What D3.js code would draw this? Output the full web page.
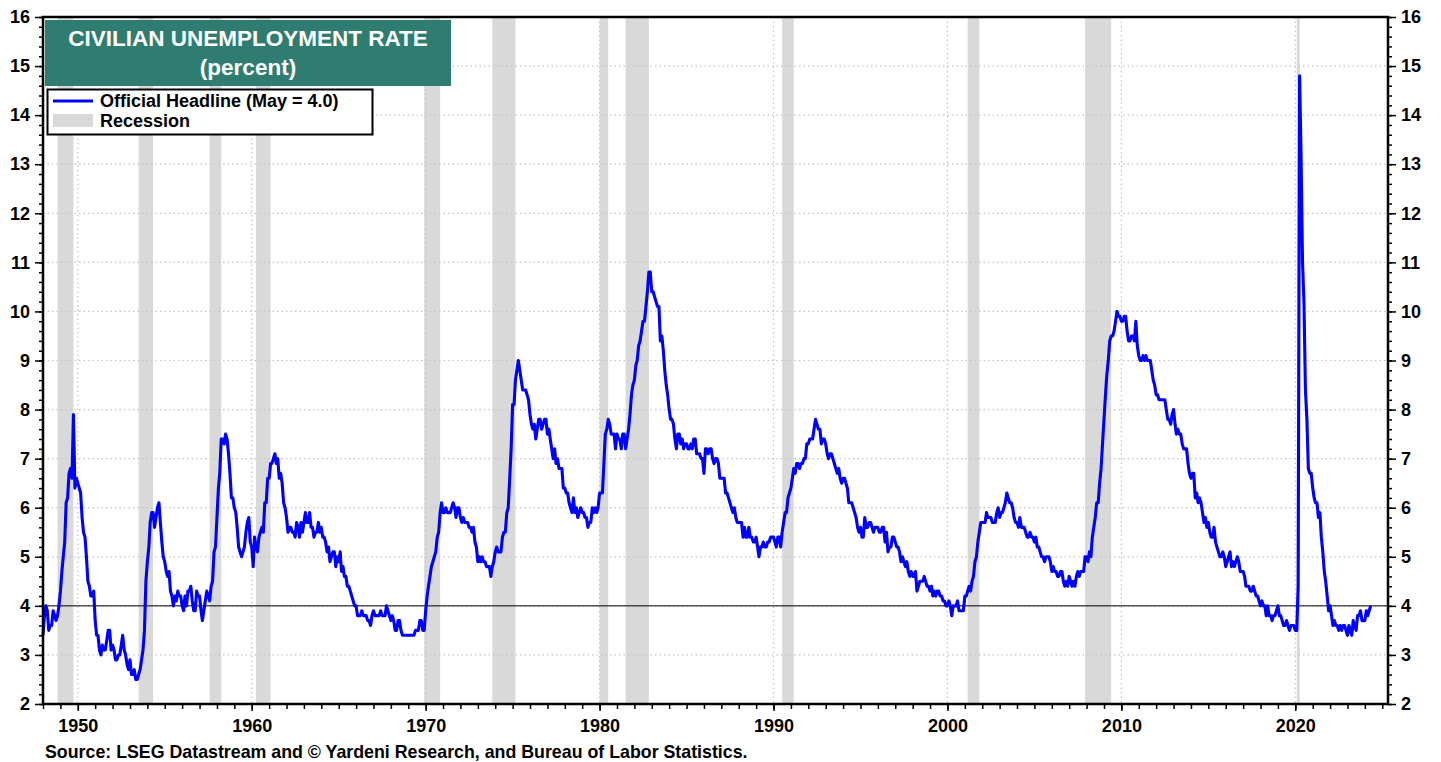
<html>
<head>
<style>
body { margin: 0; background: #fff; }
svg { font-family: "Liberation Sans", Arial, sans-serif; font-weight: bold; }
</style>
</head>
<body>
<svg id="chart"></svg>
<script src="https://cdn.jsdelivr.net/npm/d3@7"></script>
<script>
// monthly civilian unemployment rate, Jan 1948 .. May 2024
var startYear = 1948;
var rates = [
 3.4,3.8,4.0,3.9,3.5,3.6,3.6,3.9,3.8,3.7,3.8,4.0,
 4.3,4.7,5.0,5.3,6.1,6.2,6.7,6.8,6.6,7.9,6.4,6.6,
 6.5,6.4,6.3,5.8,5.5,5.4,5.0,4.5,4.4,4.2,4.2,4.3,
 3.7,3.4,3.4,3.1,3.0,3.2,3.1,3.1,3.3,3.5,3.5,3.1,
 3.2,3.1,2.9,2.9,3.0,3.0,3.2,3.4,3.1,3.0,2.8,2.7,
 2.9,2.6,2.6,2.7,2.5,2.5,2.6,2.7,2.9,3.1,3.5,4.5,
 4.9,5.2,5.7,5.9,5.9,5.6,5.8,6.0,6.1,5.7,5.3,5.0,
 4.9,4.7,4.6,4.7,4.3,4.2,4.0,4.2,4.1,4.3,4.2,4.2,
 4.0,3.9,4.2,4.0,4.3,4.3,4.4,4.1,3.9,3.9,4.3,4.2,
 4.2,3.9,3.7,3.9,4.1,4.3,4.2,4.1,4.4,4.5,5.1,5.2,
 5.8,6.4,6.7,7.4,7.4,7.3,7.5,7.4,7.1,6.7,6.2,6.2,
 6.0,5.9,5.6,5.2,5.1,5.0,5.1,5.2,5.5,5.7,5.8,5.3,
 5.2,4.8,5.4,5.2,5.1,5.4,5.5,5.6,5.5,6.1,6.1,6.6,
 6.6,6.9,6.9,7.0,7.1,6.9,7.0,6.6,6.7,6.5,6.1,6.0,
 5.8,5.5,5.6,5.6,5.5,5.5,5.4,5.7,5.6,5.4,5.7,5.5,
 5.7,5.9,5.7,5.7,5.9,5.6,5.6,5.4,5.5,5.5,5.7,5.5,
 5.6,5.4,5.4,5.3,5.1,5.2,4.9,5.0,5.1,5.1,4.8,5.0,
 4.9,5.1,4.7,4.8,4.6,4.6,4.4,4.4,4.3,4.2,4.1,4.0,
 4.0,3.8,3.8,3.8,3.9,3.8,3.8,3.8,3.7,3.7,3.6,3.8,
 3.9,3.8,3.8,3.8,3.8,3.9,3.8,3.8,3.8,4.0,3.9,3.8,
 3.7,3.8,3.7,3.5,3.5,3.7,3.7,3.5,3.4,3.4,3.4,3.4,
 3.4,3.4,3.4,3.4,3.4,3.5,3.5,3.5,3.7,3.7,3.5,3.5,
 3.9,4.2,4.4,4.6,4.8,4.9,5.0,5.1,5.4,5.5,5.9,6.1,
 5.9,5.9,6.0,5.9,5.9,5.9,6.0,6.1,6.0,5.8,6.0,6.0,
 5.8,5.7,5.8,5.7,5.7,5.7,5.6,5.6,5.5,5.6,5.3,5.2,
 4.9,5.0,4.9,5.0,4.9,4.9,4.8,4.8,4.8,4.6,4.8,4.9,
 5.1,5.2,5.1,5.1,5.1,5.4,5.5,5.5,5.9,6.0,6.6,7.2,
 8.1,8.1,8.6,8.8,9.0,8.8,8.6,8.4,8.4,8.4,8.3,8.2,
 7.9,7.7,7.6,7.7,7.4,7.6,7.8,7.8,7.6,7.7,7.8,7.8,
 7.5,7.6,7.4,7.2,7.0,7.2,6.9,7.0,6.8,6.8,6.8,6.4,
 6.4,6.3,6.3,6.1,6.0,5.9,6.2,5.9,6.0,5.8,5.9,6.0,
 5.9,5.9,5.8,5.8,5.6,5.7,5.7,6.0,5.9,6.0,5.9,6.0,
 6.3,6.3,6.3,6.9,7.5,7.6,7.8,7.7,7.5,7.5,7.5,7.2,
 7.5,7.4,7.4,7.2,7.5,7.5,7.2,7.4,7.6,7.9,8.3,8.5,
 8.6,8.9,9.0,9.3,9.4,9.6,9.8,9.8,10.1,10.4,10.8,10.8,
 10.4,10.4,10.3,10.2,10.1,10.1,9.4,9.5,9.2,8.8,8.5,8.3,
 8.0,7.8,7.8,7.7,7.4,7.2,7.5,7.5,7.3,7.4,7.2,7.3,
 7.3,7.2,7.2,7.3,7.2,7.4,7.4,7.1,7.1,7.1,7.0,7.0,
 6.7,7.2,7.2,7.1,7.2,7.2,7.0,6.9,7.0,7.0,6.9,6.6,
 6.6,6.6,6.6,6.3,6.3,6.2,6.1,6.0,5.9,6.0,5.8,5.7,
 5.7,5.7,5.7,5.4,5.6,5.4,5.4,5.6,5.4,5.4,5.3,5.3,
 5.4,5.2,5.0,5.2,5.2,5.3,5.2,5.2,5.3,5.3,5.4,5.4,
 5.4,5.3,5.2,5.4,5.4,5.2,5.5,5.7,5.9,5.9,6.2,6.3,
 6.4,6.6,6.8,6.7,6.9,6.9,6.8,6.9,6.9,7.0,7.0,7.3,
 7.3,7.4,7.4,7.4,7.6,7.8,7.7,7.6,7.6,7.3,7.4,7.4,
 7.3,7.1,7.0,7.1,7.1,7.0,6.9,6.8,6.7,6.8,6.6,6.5,
 6.6,6.6,6.5,6.4,6.1,6.1,6.1,6.0,5.9,5.8,5.6,5.5,
 5.6,5.4,5.4,5.8,5.6,5.6,5.7,5.7,5.6,5.5,5.6,5.6,
 5.6,5.5,5.5,5.6,5.6,5.3,5.5,5.1,5.2,5.2,5.4,5.4,
 5.3,5.2,5.2,5.1,4.9,5.0,4.9,4.8,4.9,4.7,4.6,4.7,
 4.6,4.6,4.7,4.3,4.4,4.5,4.5,4.5,4.6,4.5,4.4,4.4,
 4.3,4.4,4.2,4.3,4.2,4.3,4.3,4.2,4.2,4.1,4.1,4.0,
 4.0,4.1,4.0,3.8,4.0,4.0,4.0,4.1,3.9,3.9,3.9,3.9,
 4.2,4.2,4.3,4.4,4.3,4.5,4.6,4.9,5.0,5.3,5.5,5.7,
 5.7,5.7,5.7,5.9,5.8,5.8,5.8,5.7,5.7,5.7,5.9,6.0,
 5.8,5.9,5.9,6.0,6.1,6.3,6.2,6.1,6.1,6.0,5.8,5.7,
 5.7,5.6,5.8,5.6,5.6,5.6,5.5,5.4,5.4,5.5,5.4,5.4,
 5.3,5.4,5.2,5.2,5.1,5.0,5.0,4.9,5.0,5.0,5.0,4.9,
 4.7,4.8,4.7,4.7,4.6,4.6,4.7,4.7,4.5,4.4,4.5,4.4,
 4.6,4.5,4.4,4.5,4.4,4.6,4.7,4.6,4.7,4.7,4.7,5.0,
 5.0,4.9,5.1,5.0,5.4,5.6,5.8,6.1,6.1,6.5,6.8,7.3,
 7.8,8.3,8.7,9.0,9.4,9.5,9.5,9.6,9.8,10.0,9.9,9.9,
 9.8,9.8,9.9,9.9,9.6,9.4,9.4,9.5,9.5,9.4,9.8,9.3,
 9.1,9.0,9.0,9.1,9.0,9.1,9.0,9.0,9.0,8.8,8.6,8.5,
 8.3,8.3,8.2,8.2,8.2,8.2,8.2,8.0,7.8,7.8,7.7,7.9,
 8.0,7.7,7.5,7.6,7.5,7.5,7.3,7.2,7.2,7.2,6.9,6.7,
 6.6,6.7,6.7,6.2,6.3,6.1,6.2,6.1,5.9,5.7,5.8,5.6,
 5.7,5.5,5.4,5.4,5.6,5.3,5.2,5.1,5.0,5.0,5.1,5.0,
 4.8,4.9,5.0,5.1,4.8,4.9,4.8,4.9,5.0,4.9,4.7,4.7,
 4.7,4.6,4.4,4.4,4.4,4.3,4.3,4.4,4.3,4.2,4.2,4.1,
 4.0,4.1,4.0,4.0,3.8,4.0,3.8,3.8,3.7,3.8,3.8,3.9,
 4.0,3.8,3.8,3.7,3.6,3.6,3.7,3.6,3.5,3.6,3.6,3.6,
 3.5,3.5,4.4,14.8,13.2,11.0,10.2,8.4,7.8,6.8,6.7,6.7,
 6.4,6.2,6.1,6.1,5.8,5.9,5.4,5.1,4.7,4.5,4.2,3.9,
 4.0,3.8,3.6,3.7,3.6,3.6,3.5,3.6,3.5,3.6,3.6,3.5,
 3.4,3.6,3.5,3.4,3.7,3.6,3.5,3.8,3.8,3.9,3.7,3.7,
 3.7,3.9,3.8,3.9,4.0
];

// NBER recessions, [start, end] as "YYYY-MM"
var recessions = [
  ["1948-11","1949-10"], ["1953-07","1954-05"], ["1957-08","1958-04"],
  ["1960-04","1961-02"], ["1969-12","1970-11"], ["1973-11","1975-03"],
  ["1980-01","1980-07"], ["1981-07","1982-11"], ["1990-07","1991-03"],
  ["2001-03","2001-11"], ["2007-12","2009-06"], ["2020-02","2020-04"]
];

var yTicks = [2,3,4,5,6,7,8,9,10,11,12,13,14,15,16];
var xTickYears = [1950,1960,1970,1980,1990,2000,2010,2020];
var titleLines = ["CIVILIAN UNEMPLOYMENT RATE", "(percent)"];
var legendLabels = ["Official Headline (May = 4.0)", "Recession"];
var sourceText = "Source: LSEG Datastream and \u00A9 Yardeni Research, and Bureau of Labor Statistics.";

var W = 1441, H = 762;
var pl = 43, pr = 1388, pt = 17, pb = 704;

var svg = d3.select("#chart").attr("width", W).attr("height", H);

var parse = d3.timeParse("%Y-%m");
var data = rates.map(function(v, i) {
  return { date: new Date(startYear + Math.floor(i / 12), i % 12, 1), value: v };
});

var x = d3.scaleTime()
    .domain([new Date(1948, 0, 1), new Date(2025, 4, 1)])
    .range([pl, pr]);

var y = d3.scaleLinear()
    .domain([2, 16])
    .range([pb, pt]);

// recession bands
svg.append("g").selectAll("rect")
    .data(recessions)
  .enter().append("rect")
    .attr("x", function(d) { return x(parse(d[0])); })
    .attr("width", function(d) { return Math.max(3, x(parse(d[1])) - x(parse(d[0]))); })
    .attr("y", pt)
    .attr("height", pb - pt)
    .attr("fill", "#d9d9d9");

// dotted grid
var grid = svg.append("g")
    .attr("stroke", "#c4c4c4")
    .attr("stroke-width", 1.2)
    .attr("stroke-dasharray", "1.5,3");

grid.selectAll("line.h")
    .data(yTicks.filter(function(t) { return t > 2 && t < 16; }))
  .enter().append("line")
    .attr("x1", pl).attr("x2", pr)
    .attr("y1", function(d) { return y(d); })
    .attr("y2", function(d) { return y(d); });

grid.selectAll("line.v")
    .data(xTickYears)
  .enter().append("line")
    .attr("x1", function(d) { return x(new Date(d, 0, 1)); })
    .attr("x2", function(d) { return x(new Date(d, 0, 1)); })
    .attr("y1", pt).attr("y2", pb);

// reference line at 4
svg.append("line")
    .attr("x1", pl).attr("x2", pr)
    .attr("y1", y(4)).attr("y2", y(4))
    .attr("stroke", "#000")
    .attr("stroke-width", 1);

// series
var line = d3.line()
    .x(function(d) { return x(d.date); })
    .y(function(d) { return y(d.value); });

svg.append("path")
    .datum(data)
    .attr("d", line)
    .attr("fill", "none")
    .attr("stroke", "#0000ff")
    .attr("stroke-width", 3.1)
    .attr("stroke-linejoin", "round");

// axes
var minorY = d3.range(2, 16.001, 0.2);

svg.append("g").attr("transform", "translate(" + pl + ",0)")
    .call(d3.axisLeft(y).tickValues(minorY).tickSize(4).tickFormat(""));
svg.append("g").attr("transform", "translate(" + pl + ",0)")
    .call(d3.axisLeft(y).tickValues(yTicks).tickSize(8).tickPadding(5).tickFormat(d3.format("d")));

svg.append("g").attr("transform", "translate(" + pr + ",0)")
    .call(d3.axisRight(y).tickValues(minorY).tickSize(4).tickFormat(""));
svg.append("g").attr("transform", "translate(" + pr + ",0)")
    .call(d3.axisRight(y).tickValues(yTicks).tickSize(8).tickPadding(5).tickFormat(d3.format("d")));

var minorX = d3.range(1948, 2026).map(function(yr) { return new Date(yr, 0, 1); });
svg.append("g").attr("transform", "translate(0," + pb + ")")
    .call(d3.axisBottom(x).tickValues(minorX).tickSize(5).tickFormat(""));
svg.append("g").attr("transform", "translate(0," + pb + ")")
    .call(d3.axisBottom(x).tickValues(xTickYears.map(function(yr) { return new Date(yr, 0, 1); }))
      .tickSize(7).tickPadding(8).tickFormat(d3.timeFormat("%Y")));

svg.selectAll(".domain").remove();
svg.selectAll(".tick line").attr("stroke", "#000").attr("stroke-width", 1.5);
svg.selectAll(".tick text")
    .attr("fill", "#000")
    .style("font-size", "18px")
    .style("font-weight", "bold")
    .style("font-family", "'Liberation Sans', Arial, sans-serif");

// frame
svg.append("rect")
    .attr("x", pl).attr("y", pt)
    .attr("width", pr - pl).attr("height", pb - pt)
    .attr("fill", "none")
    .attr("stroke", "#000")
    .attr("stroke-width", 2.5);

// title box
var tb = svg.append("g");
tb.append("rect")
    .attr("x", 45).attr("y", 20).attr("width", 406).attr("height", 66)
    .attr("fill", "#2e7d70");
tb.selectAll("text")
    .data(titleLines)
  .enter().append("text")
    .attr("x", 248)
    .attr("y", function(d, i) { return 46 + i * 29; })
    .attr("text-anchor", "middle")
    .attr("fill", "#fff")
    .style("font-size", "22.5px")
    .text(function(d) { return d; });

// legend
var lg = svg.append("g");
lg.append("rect")
    .attr("x", 47.5).attr("y", 89.5).attr("width", 325).attr("height", 45)
    .attr("fill", "#fff")
    .attr("stroke", "#000")
    .attr("stroke-width", 2);
lg.append("line")
    .attr("x1", 53).attr("x2", 93).attr("y1", 101).attr("y2", 101)
    .attr("stroke", "#0000ff").attr("stroke-width", 2.8);
lg.append("rect")
    .attr("x", 53).attr("y", 114).attr("width", 40).attr("height", 13)
    .attr("fill", "#d9d9d9");
lg.selectAll("text")
    .data(legendLabels)
  .enter().append("text")
    .attr("x", 100)
    .attr("y", function(d, i) { return 107 + i * 20; })
    .attr("fill", "#000")
    .style("font-size", "18px")
    .text(function(d) { return d; });

// source
svg.append("text")
    .attr("x", 45).attr("y", 757.5)
    .attr("fill", "#000")
    .style("font-size", "17.8px")
    .text(sourceText);
</script>
</body>
</html>
